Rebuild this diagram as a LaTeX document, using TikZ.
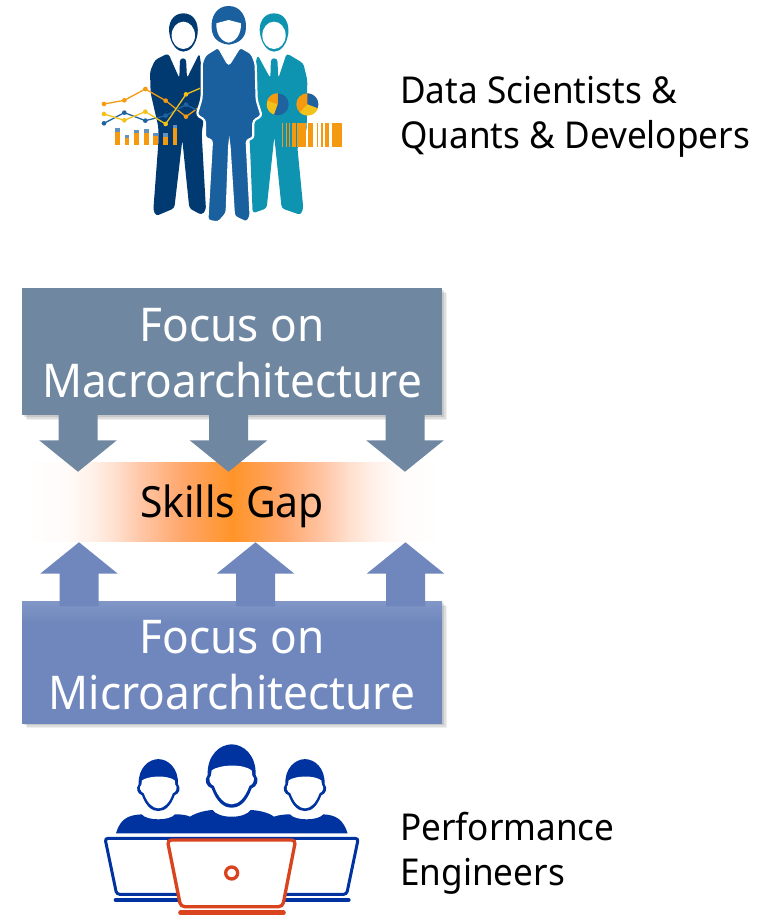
\documentclass[tikz,border=0pt]{standalone}
\usepackage{fontspec}
\setmainfont{Noto Sans}[FakeStretch=0.95]
\usetikzlibrary{shapes.arrows,shadows}

\definecolor{macrofill}{HTML}{6F87A0}
\definecolor{microfill}{HTML}{6F87BC}
\definecolor{microtop}{HTML}{8297C8}
\definecolor{navysuit}{HTML}{003A70}
\definecolor{bluesuit}{HTML}{1A5F9E}
\definecolor{tealsuit}{HTML}{0E93B0}
\definecolor{chartorange}{HTML}{F59A10}
\definecolor{chartyellow}{HTML}{F2C21A}
\definecolor{chartblue}{HTML}{1F62A0}
\definecolor{crewblue}{HTML}{0033A0}
\definecolor{laptopred}{HTML}{D9431E}
\definecolor{gapa}{HTML}{FFFBF9}
\definecolor{gapb}{HTML}{FFF1E9}
\definecolor{gapc}{HTML}{FFDFCD}
\definecolor{gapd}{HTML}{FFC6A6}
\definecolor{gape}{HTML}{FFA66A}
\definecolor{gapf}{HTML}{FF9428}

\pgfdeclarehorizontalshading{gapshade}{100bp}{
  color(0bp)=(white); color(25bp)=(white); color(30bp)=(gapa);
  color(33bp)=(gapb); color(36bp)=(gapc); color(39bp)=(gapd); color(44bp)=(gape);
  color(50bp)=(gapf); color(56bp)=(gape); color(61bp)=(gapd); color(64bp)=(gapc);
  color(67bp)=(gapb); color(70bp)=(gapa); color(75bp)=(white); color(100bp)=(white)}
\pgfdeclareverticalshading{microshade}{100bp}{
  color(0bp)=(microfill); color(66bp)=(microfill); color(75bp)=(microtop); color(100bp)=(microtop)}

\tikzset{
  soft shadow/.style={
    drop shadow={shadow xshift=5pt,shadow yshift=-5pt,fill=black,opacity=.06},
    drop shadow={shadow xshift=3.5pt,shadow yshift=-3.5pt,fill=black,opacity=.08},
    drop shadow={shadow xshift=2pt,shadow yshift=-2pt,fill=black,opacity=.10}},
  focus box/.style={soft shadow,minimum width=420pt,inner sep=0pt},
  focus label/.style={inner sep=0pt,align=center,text=white,font=\fontsize{46.5}{56}\selectfont},
  down arrow/.style={single arrow,fill=macrofill,rotate=-90,anchor=tip,inner sep=19.3pt,
    single arrow head extend=19.2pt,single arrow tip angle=102,minimum height=57pt},
  up arrow/.style={single arrow,fill=microfill,rotate=90,anchor=tip,inner sep=19.3pt,
    single arrow head extend=19.2pt,single arrow tip angle=102,minimum height=64pt},
  side label/.style={anchor=west,align=left,inner sep=0pt,font=\fontsize{37}{45}\selectfont},
  chart line/.style={line width=1.3pt,line join=round}
}

\begin{document}
\begin{tikzpicture}[x=1pt,y=-1pt]
  \useasboundingbox (0,0) rectangle (769,915);

  % people on top
  \begin{scope}[shift={(90,0)},x=0.3333pt,y=-0.3333pt]
    % right man
    \fill[tealsuit] (552,40) .. controls (520,40) and (505,70) .. (510,100) .. controls (515,135) and (535,155) .. (552,155) .. controls (572,155) and (590,135) .. (595,100) .. controls (598,70) and (585,40) .. (552,40) -- cycle;
    \fill[white] (552,106) ellipse (35 and 41);
    \fill[tealsuit,rounded corners=3pt] (503,165) -- (541,235) -- (543,175) -- (562,175) -- (565,235) -- (590,160) -- (640,190) -- (652,240) -- (650,390) -- (622,440) -- (640,625) -- (632,645) -- (575,625) -- (553,410) -- (530,625) -- (488,640) -- (480,440) -- (470,300) -- cycle;
    % left man
    \fill[navysuit] (280,40) .. controls (248,40) and (233,70) .. (238,100) .. controls (243,135) and (263,155) .. (280,155) .. controls (300,155) and (318,135) .. (323,100) .. controls (326,70) and (313,40) .. (280,40) -- cycle;
    \fill[white] (280,106) ellipse (35 and 41);
    \fill[navysuit,rounded corners=3pt] (235,160) -- (268,235) -- (270,175) -- (288,175) -- (291,235) -- (328,160) -- (350,300) -- (335,400) -- (348,630) -- (335,645) -- (298,625) -- (277,420) -- (253,625) -- (198,648) -- (190,630) -- (205,430) -- (205,380) -- (182,280) -- (180,215) -- (195,180) -- cycle;
    % chart
    \foreach \x/\t in {75/385,104/405,133/390,162/388,190/398,219/400,248/375}{
      \fill[chartorange] (\x,\t) rectangle ++(14,436-\t);
      \fill[chartblue!70] (\x,\t) rectangle ++(14,10);
    }
    \draw[chart line,chartorange] (42,312) -- (103,301) -- (166,267) -- (227,302) -- (288,350) -- (330,320);
    \draw[chart line,chartblue] (42,370) -- (103,338) -- (166,362) -- (227,347) -- (288,314) -- (320,330);
    \draw[chart line,chartyellow] (42,342) -- (103,361) -- (166,335) -- (227,372) -- (288,283) -- (330,265);
    \foreach \x/\y in {42/312,103/301,166/267,227/302,288/350}{\fill[chartorange] (\x,\y) circle (7);}
    \foreach \x/\y in {42/370,103/338,166/362,227/347,288/314}{\fill[chartblue] (\x,\y) circle (7);}
    \foreach \x/\y in {42/342,103/361,166/335,227/372,288/283}{\fill[chartyellow] (\x,\y) circle (7);}
    % pies
    \fill[chartblue] (563,313) circle (33);
    \fill[chartyellow] (563,313) -- (563,280) arc[start angle=90,end angle=250,x radius=33,y radius=-33] -- cycle;
    \fill[chartorange] (563,313) -- (563,280) arc[start angle=90,end angle=160,x radius=33,y radius=-33] -- cycle;
    \fill[chartorange] (652,313) circle (33);
    \fill[chartblue] (652,313) -- (652,280) arc[start angle=90,end angle=-25,x radius=33,y radius=-33] -- cycle;
    \fill[chartyellow] (652,313) -- (684,325) arc[start angle=-20,end angle=-135,x radius=33,y radius=-33] -- cycle;
    % barcode
    \foreach \x/\w in {575/5,588/3,598/3,605/14,622/26,655/15,680/5,692/8,704/14,726/31}{
      \fill[chartorange] (\x,368) rectangle ++(\w,74);
    }
    % woman
    \fill[bluesuit] (416,18) .. controls (380,18) and (362,50) .. (365,85) .. controls (367,115) and (385,130) .. (416,134) .. controls (447,130) and (466,115) .. (468,85) .. controls (470,50) and (452,18) .. (416,18) -- cycle;
    \fill[white] (416,60) .. controls (398,65) and (385,68) .. (379,70) .. controls (378,100) and (392,124) .. (416,128) .. controls (440,124) and (454,100) .. (453,70) .. controls (447,68) and (434,65) .. (416,60) -- cycle;
    \filldraw[bluesuit,draw=white,line width=2.2pt,rounded corners=3pt] (345,165) -- (385,140) -- (416,195) -- (450,140) -- (485,160) -- (497,190) -- (500,300) -- (515,348) -- (490,362) -- (490,415) -- (470,420) -- (482,650) -- (470,668) -- (432,650) -- (418,430) -- (410,640) -- (385,668) -- (352,662) -- (366,420) -- (345,415) -- (345,360) -- (320,345) -- (335,295) -- (335,190) -- cycle;
  \end{scope}

  \node[side label] (quants) at (400,116.5) {Data Scientists \&\\Quants \& Developers};

  \node[focus box,fill=macrofill,minimum height=127pt] (macro) at (232,351.5) {};
  \node[focus box,shading=microshade,minimum height=122pt] (micro) at (232,662) {};
  \node[focus label] (macrotext) at (232,353) {Focus on\\Macroarchitecture};
  \node[focus label] (microtext) at (232,665.5) {Focus on\\Microarchitecture};

  \fill[shading=gapshade] (25,462) rectangle (440,541);
  \node[inner sep=0pt,font=\fontsize{43}{50}\selectfont] (gap) at (232,506) {Skills Gap};

  \foreach \x [count=\i] in {78,228.5,405}
    \node[down arrow] (down\i) at (\x,472) {};
  \foreach \x [count=\i] in {79,255.5,405.5}
    \node[up arrow] (up\i) at (\x,542) {};

  % people below
  \begin{scope}[shift={(90,735)},x=0.3333pt,y=-0.3333pt]
    \foreach \hx/\hy/\hs in {205/156/0.82,645/156/0.82,425/130/1}{
      \begin{scope}[shift={(\hx,\hy)},x=0.3333*\hs pt,y=-0.3333*\hs pt]
        \fill[crewblue] (-72,-10) .. controls (-74,-70) and (-35,-102) .. (0,-102) .. controls (35,-102) and (74,-70) .. (72,-10) .. controls (84,5) and (76,25) .. (60,30) .. controls (45,70) and (25,88) .. (0,88) .. controls (-25,88) and (-45,70) .. (-60,30) .. controls (-76,25) and (-84,5) .. (-72,-10) -- cycle;
        \fill[white] (-60,-24) .. controls (-35,-42) and (35,-44) .. (60,-24) -- (62,-8) .. controls (72,0) and (66,18) .. (53,23) .. controls (40,60) and (20,78) .. (0,78) .. controls (-20,78) and (-40,60) .. (-53,23) .. controls (-66,18) and (-72,0) .. (-62,-8) -- cycle;
      \end{scope}
    }
    \fill[crewblue] (78,295) .. controls (90,255) and (110,240) .. (155,238) .. controls (170,258) and (240,258) .. (255,238) .. controls (275,238) and (290,240) .. (300,245) .. controls (320,232) and (350,226) .. (368,225) .. controls (385,252) and (465,252) .. (482,225) .. controls (505,226) and (535,232) .. (552,245) .. controls (565,240) and (585,238) .. (600,238) .. controls (615,258) and (685,258) .. (700,238) .. controls (740,240) and (760,255) .. (773,295) -- cycle;
    \draw[crewblue,line width=3pt,rounded corners=3pt] (45,310) -- (805,310) -- (770,478) -- (80,478) -- cycle;
    \draw[crewblue,line width=4pt,line cap=round] (77,495) -- (776,495);
    \filldraw[fill=white,draw=laptopred,line width=3.3pt,rounded corners=4pt] (232,315) -- (617,315) -- (578,515) -- (272,515) -- cycle;
    \draw[laptopred,line width=5pt,line cap=round] (272,534) -- (580,534);
    \draw[laptopred,line width=3.3pt] (425,414) circle (18);
  \end{scope}

  \node[side label] (engineers) at (400,853.5) {Performance\\Engineers};
\end{tikzpicture}
\end{document}
